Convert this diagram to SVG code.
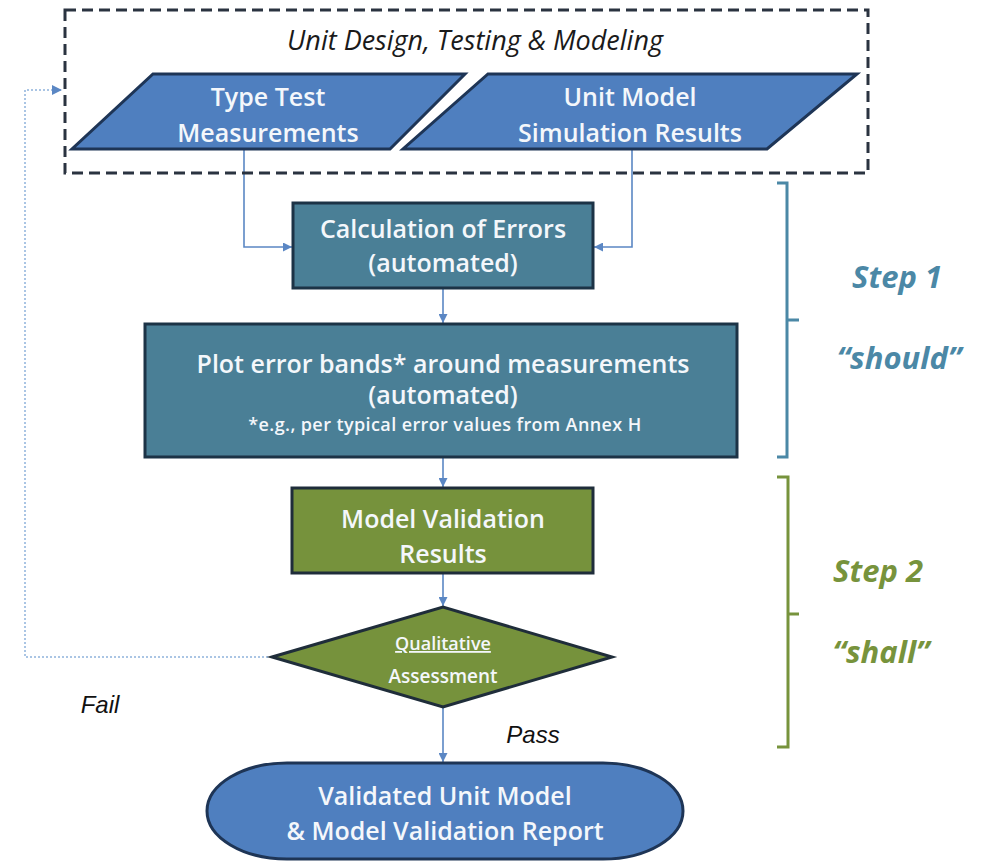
<svg xmlns="http://www.w3.org/2000/svg" width="982" height="862" viewBox="0 0 982 862">
<defs>
<style>
.nt{font-family:"Open Sans","Noto Sans",sans-serif;font-weight:600;fill:#f4f7fb;text-anchor:middle}
.big{font-size:25px}
.sm{font-size:18px;letter-spacing:0.4px}
.conn{fill:none;stroke:#5b87c4;stroke-width:1.6}
.fb{fill:none;stroke:#8fb2dc;stroke-width:1.5;stroke-dasharray:2 2}
.lbl{font-family:"Liberation Sans",Arial,sans-serif;font-style:italic;font-size:24px;fill:#111;text-anchor:middle}
.step{font-family:"Open Sans","Noto Sans",sans-serif;font-style:italic;font-weight:bold;font-size:31px;text-anchor:middle}
</style>
<marker id="ah" viewBox="0 0 10 10" refX="10" refY="5" markerWidth="9" markerHeight="9" markerUnits="userSpaceOnUse" orient="auto">
<path d="M0,0 L10,5 L0,10 z" fill="#5b87c4"/>
</marker>
<marker id="ah2" viewBox="0 0 10 10" refX="10" refY="5" markerWidth="10" markerHeight="10" markerUnits="userSpaceOnUse" orient="auto">
<path d="M0,0 L10,5 L0,10 z" fill="#5b87c4"/>
</marker>
</defs>
<rect width="982" height="862" fill="#ffffff"/>

<g id="connectors">
<path class="conn" d="M244,149 V247 H292" marker-end="url(#ah)"/>
<path class="conn" d="M632,149 V247 H594" marker-end="url(#ah)"/>
<path class="conn" d="M443,288 V323" marker-end="url(#ah)"/>
<path class="conn" d="M443,457 V487" marker-end="url(#ah)"/>
<path class="conn" d="M443,573 V606" marker-end="url(#ah)"/>
<path class="conn" d="M443,707 V762" marker-end="url(#ah)"/>
<path class="fb" d="M272,657 H25 V90 H62" marker-end="url(#ah2)"/>
</g>

<g id="group-unit-design">
<rect x="65" y="10" width="803" height="163" fill="none" stroke="#2a3340" stroke-width="3" stroke-dasharray="11 6"/>
<text x="475" y="50" font-family="Open Sans,Noto Sans,sans-serif" font-style="italic" font-size="27" fill="#1a1a1a" text-anchor="middle">Unit Design, Testing &amp; Modeling</text>
</g>

<g id="type-test">
<polygon points="153,74 465,74 390,149 72,149" fill="#4f7fbf" stroke="#1e3556" stroke-width="3"/>
<text class="nt big" x="268" y="106">Type Test</text>
<text class="nt big" x="268" y="142">Measurements</text>
</g>

<g id="unit-model">
<polygon points="488,74 857,74 767,149 403,149" fill="#4f7fbf" stroke="#1e3556" stroke-width="3"/>
<text class="nt big" x="630" y="106">Unit Model</text>
<text class="nt big" x="630" y="142">Simulation Results</text>
</g>

<g id="calc-errors">
<rect x="293" y="203" width="300" height="85" fill="#4a7f96" stroke="#1c3346" stroke-width="3"/>
<text class="nt big" x="443" y="238">Calculation of Errors</text>
<text class="nt big" x="443" y="272">(automated)</text>
</g>

<g id="plot-bands">
<rect x="145" y="324" width="592" height="133" fill="#4a7f96" stroke="#1c3346" stroke-width="3"/>
<text class="nt big" x="443" y="373">Plot error bands* around measurements</text>
<text class="nt big" x="443" y="404">(automated)</text>
<text class="nt sm" x="445" y="431">*e.g., per typical error values from Annex H</text>
</g>

<g id="model-validation">
<rect x="292" y="488" width="301" height="85" fill="#76923c" stroke="#1f2d3a" stroke-width="3"/>
<text class="nt big" x="443" y="528">Model Validation</text>
<text class="nt big" x="443" y="563">Results</text>
</g>

<g id="qualitative">
<polygon points="272,657 443,607 612,657 443,707" fill="#76923c" stroke="#1f2d3a" stroke-width="3"/>
<text class="nt" x="443" y="650" font-size="18" text-decoration="underline">Qualitative</text>
<text class="nt" x="443" y="683" font-size="19">Assessment</text>
</g>

<g id="validated">
<rect x="207" y="763" width="476" height="96" rx="80" ry="48" fill="#4f7fbf" stroke="#1e3556" stroke-width="3"/>
<text class="nt big" x="445" y="805">Validated Unit Model</text>
<text class="nt big" x="445" y="840">&amp; Model Validation Report</text>
</g>

<g id="step1">
<path d="M777,183 H787 V457 H777 M787,320 H799" fill="none" stroke="#4b88a6" stroke-width="3"/>
<text class="step" x="897" y="288" fill="#4b88a6">Step 1</text>
<text class="step" x="899" y="369" fill="#4b88a6">“should”</text>
</g>

<g id="step2">
<path d="M777,477 H788 V747 H777 M788,614 H799" fill="none" stroke="#77933c" stroke-width="3"/>
<text class="step" x="878" y="582" fill="#77933c">Step 2</text>
<text class="step" x="881" y="663" fill="#77933c">“shall”</text>
</g>

<g id="labels">
<text class="lbl" x="100" y="713">Fail</text>
<text class="lbl" x="533" y="743">Pass</text>
</g>
</svg>
